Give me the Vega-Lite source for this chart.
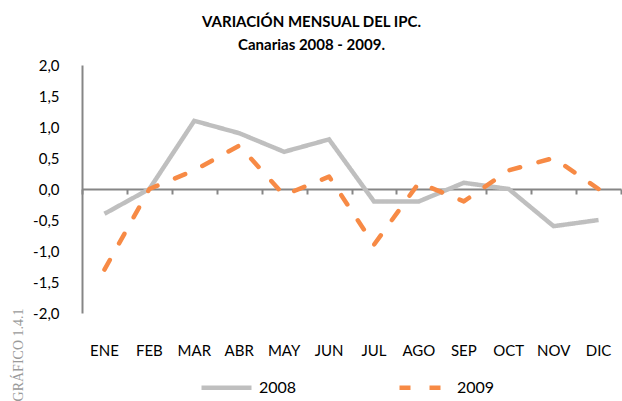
{
  "$schema": "https://vega.github.io/schema/vega-lite/v6.json",
  "width": 539,
  "height": 248,
  "autosize": {"type": "none"},
  "padding": {"left": 82, "top": 65, "right": 1, "bottom": 88},
  "background": "white",
  "title": {
    "text": ["VARIACIÓN MENSUAL DEL IPC.", "Canarias 2008 - 2009."],
    "font": "Lato",
    "fontSize": 15,
    "fontWeight": "bold",
    "color": "#000000",
    "anchor": "middle",
    "frame": "group",
    "dx": -40,
    "offset": 5,
    "lineHeight": 23
  },
  "config": {"view": {"stroke": null}, "font": "Lato"},
  "data": {
    "values": [
      {"month": "ENE", "year": "2008", "value": -0.4},
      {"month": "FEB", "year": "2008", "value": 0.0},
      {"month": "MAR", "year": "2008", "value": 1.1},
      {"month": "ABR", "year": "2008", "value": 0.9},
      {"month": "MAY", "year": "2008", "value": 0.6},
      {"month": "JUN", "year": "2008", "value": 0.8},
      {"month": "JUL", "year": "2008", "value": -0.2},
      {"month": "AGO", "year": "2008", "value": -0.2},
      {"month": "SEP", "year": "2008", "value": 0.1},
      {"month": "OCT", "year": "2008", "value": 0.0},
      {"month": "NOV", "year": "2008", "value": -0.6},
      {"month": "DIC", "year": "2008", "value": -0.5},
      {"month": "ENE", "year": "2009", "value": -1.3},
      {"month": "FEB", "year": "2009", "value": 0.0},
      {"month": "MAR", "year": "2009", "value": 0.3},
      {"month": "ABR", "year": "2009", "value": 0.7},
      {"month": "MAY", "year": "2009", "value": -0.1},
      {"month": "JUN", "year": "2009", "value": 0.2},
      {"month": "JUL", "year": "2009", "value": -0.9},
      {"month": "AGO", "year": "2009", "value": 0.1},
      {"month": "SEP", "year": "2009", "value": -0.2},
      {"month": "OCT", "year": "2009", "value": 0.3},
      {"month": "NOV", "year": "2009", "value": 0.5},
      {"month": "DIC", "year": "2009", "value": 0.0}
    ]
  },
  "layer": [
    {
      "transform": [{"filter": "datum.year == '2008'"}],
      "mark": {"type": "line", "strokeWidth": 4.5, "strokeCap": "butt", "strokeJoin": "miter"},
      "encoding": {
        "x": {
          "field": "month",
          "type": "ordinal",
          "bandPosition": 0.5,
          "scale": {"type": "band", "domain": ["ENE","FEB","MAR","ABR","MAY","JUN","JUL","AGO","SEP","OCT","NOV","DIC"], "paddingInner": 0, "paddingOuter": 0},
          "axis": {
            "orient": "bottom",
            "offset": -124,
            "title": null,
            "labels": false,
            "domain": true,
            "domainColor": "#868686",
            "domainWidth": 2,
            "ticks": true,
            "tickBand": "extent",
            "tickSize": 5,
            "tickColor": "#868686",
            "tickWidth": 2,
            "grid": false
          }
        },
        "y": {
          "field": "value",
          "type": "quantitative",
          "scale": {"domain": [-2, 2], "nice": false, "zero": false},
          "axis": {
            "values": [-2, -1.5, -1, -0.5, 0, 0.5, 1, 1.5, 2],
            "labelExpr": "(datum.value < 0 ? '-' : '') + replace(format(abs(datum.value), '.1f'), '.', ',')",
            "labelOverlap": false,
            "grid": false,
            "ticks": false,
            "domain": true,
            "domainColor": "#868686",
            "domainWidth": 2,
            "labelPadding": 23,
            "labelFont": "Lato",
            "labelFontSize": 15,
            "labelColor": "#000000",
            "title": "GRÁFICO 1.4.1",
            "titleFont": "Liberation Serif",
            "titleFontSize": 14,
            "titleFontWeight": "normal",
            "titleColor": "#9a9a9a",
            "titleAngle": -90,
            "titleAlign": "right",
            "titleBaseline": "middle",
            "titleX": -64,
            "titleY": 243
          }
        },
        "color": {
          "field": "year",
          "type": "nominal",
          "scale": {"domain": ["2008", "2009"], "range": ["#bfbfbf", "#f78a45"]},
          "legend": {
            "title": null,
            "orient": "none",
            "legendX": 117,
            "legendY": 295,
            "direction": "horizontal",
            "symbolType": "stroke",
            "symbolSize": 2500,
            "symbolStrokeWidth": 4.5,
            "labelFont": "Lato",
            "labelFontSize": 16,
            "labelColor": "#000000",
            "labelOffset": 5,
            "columnPadding": 93
          }
        },
        "strokeDash": {
          "field": "year",
          "type": "nominal",
          "scale": {"domain": ["2008", "2009"], "range": [[1, 0], [11, 19]]},
          "legend": {
            "title": null,
            "orient": "none",
            "legendX": 117,
            "legendY": 295,
            "direction": "horizontal",
            "symbolType": "stroke",
            "symbolSize": 2500,
            "symbolStrokeWidth": 4.5,
            "labelFont": "Lato",
            "labelFontSize": 16,
            "labelColor": "#000000",
            "labelOffset": 5,
            "columnPadding": 93
          }
        }
      }
    },
    {
      "transform": [{"filter": "datum.year == '2009'"}],
      "mark": {"type": "line", "strokeWidth": 4.5, "strokeCap": "round", "strokeJoin": "round"},
      "encoding": {
        "x": {
          "field": "month",
          "type": "ordinal",
          "bandPosition": 0.5,
          "scale": {"type": "band", "domain": ["ENE","FEB","MAR","ABR","MAY","JUN","JUL","AGO","SEP","OCT","NOV","DIC"], "paddingInner": 0, "paddingOuter": 0},
          "axis": {
            "orient": "bottom",
            "title": null,
            "domain": false,
            "ticks": false,
            "grid": false,
            "labelAngle": 0,
            "labelPadding": 30,
            "labelFont": "Lato",
            "labelFontSize": 15,
            "labelColor": "#000000"
          }
        },
        "y": {
          "field": "value",
          "type": "quantitative",
          "scale": {"domain": [-2, 2], "nice": false, "zero": false},
          "axis": {
            "values": [-2, -1.5, -1, -0.5, 0, 0.5, 1, 1.5, 2],
            "labelExpr": "(datum.value < 0 ? '-' : '') + replace(format(abs(datum.value), '.1f'), '.', ',')",
            "labelOverlap": false,
            "grid": false,
            "ticks": false,
            "domain": true,
            "domainColor": "#868686",
            "domainWidth": 2,
            "labelPadding": 23,
            "labelFont": "Lato",
            "labelFontSize": 15,
            "labelColor": "#000000",
            "title": "GRÁFICO 1.4.1",
            "titleFont": "Liberation Serif",
            "titleFontSize": 14,
            "titleFontWeight": "normal",
            "titleColor": "#9a9a9a",
            "titleAngle": -90,
            "titleAlign": "right",
            "titleBaseline": "middle",
            "titleX": -64,
            "titleY": 243
          }
        },
        "color": {"field": "year", "type": "nominal"},
        "strokeDash": {"field": "year", "type": "nominal"}
      }
    }
  ],
  "resolve": {"axis": {"x": "independent"}}
}
